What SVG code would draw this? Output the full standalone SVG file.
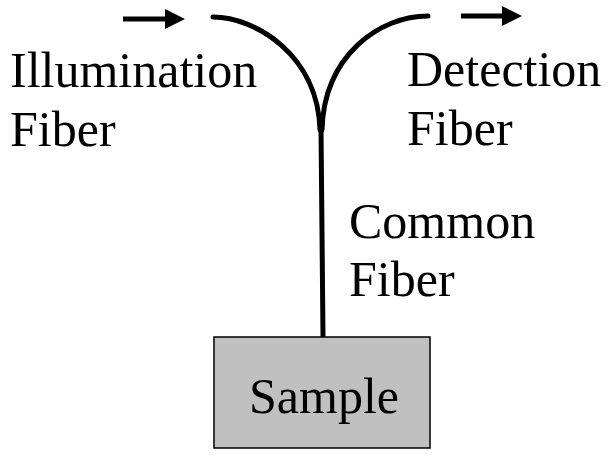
<svg xmlns="http://www.w3.org/2000/svg" width="608" height="459" viewBox="0 0 608 459">
  <defs>
    <marker id="arrow" viewBox="0 0 4 4" refX="0" refY="2" markerWidth="4" markerHeight="4" markerUnits="strokeWidth" orient="auto">
      <path d="M0,0 L4,2 L0,4 Z" fill="#000"/>
    </marker>
  </defs>
  <style>
    .lbl { font-family: "Liberation Serif", "Times New Roman", serif; font-size: 50px; fill: #000; }
    .fiber { fill: none; stroke: #000; stroke-width: 5; stroke-linecap: round; }
    .flow { stroke: #000; stroke-width: 5; }
  </style>
  <rect width="608" height="459" fill="#fff"/>

  <g id="connectors">
    <path class="fiber" d="M213,17 C255,17 318,55 320,130"/>
    <path class="fiber" d="M428,16 C380,16 324,55 322,130"/>
    <path class="fiber" d="M321,128 L323,337" stroke-linecap="butt"/>
    <line class="flow" x1="123" y1="19" x2="165" y2="19" marker-end="url(#arrow)"/>
    <line class="flow" x1="461" y1="16" x2="502" y2="16" marker-end="url(#arrow)"/>
  </g>

  <g id="illumination-fiber">
    <text class="lbl" x="10" y="87">Illumination</text>
    <text class="lbl" x="10" y="146">Fiber</text>
  </g>

  <g id="detection-fiber">
    <text class="lbl" x="407" y="86">Detection</text>
    <text class="lbl" x="407" y="145">Fiber</text>
  </g>

  <g id="common-fiber">
    <text class="lbl" x="349" y="238">Common</text>
    <text class="lbl" x="349" y="296">Fiber</text>
  </g>

  <g id="sample">
    <rect x="214" y="337" width="216" height="111" fill="#c0c0c0" stroke="#000" stroke-width="1.5"/>
    <text class="lbl" x="249" y="413">Sample</text>
  </g>
</svg>
